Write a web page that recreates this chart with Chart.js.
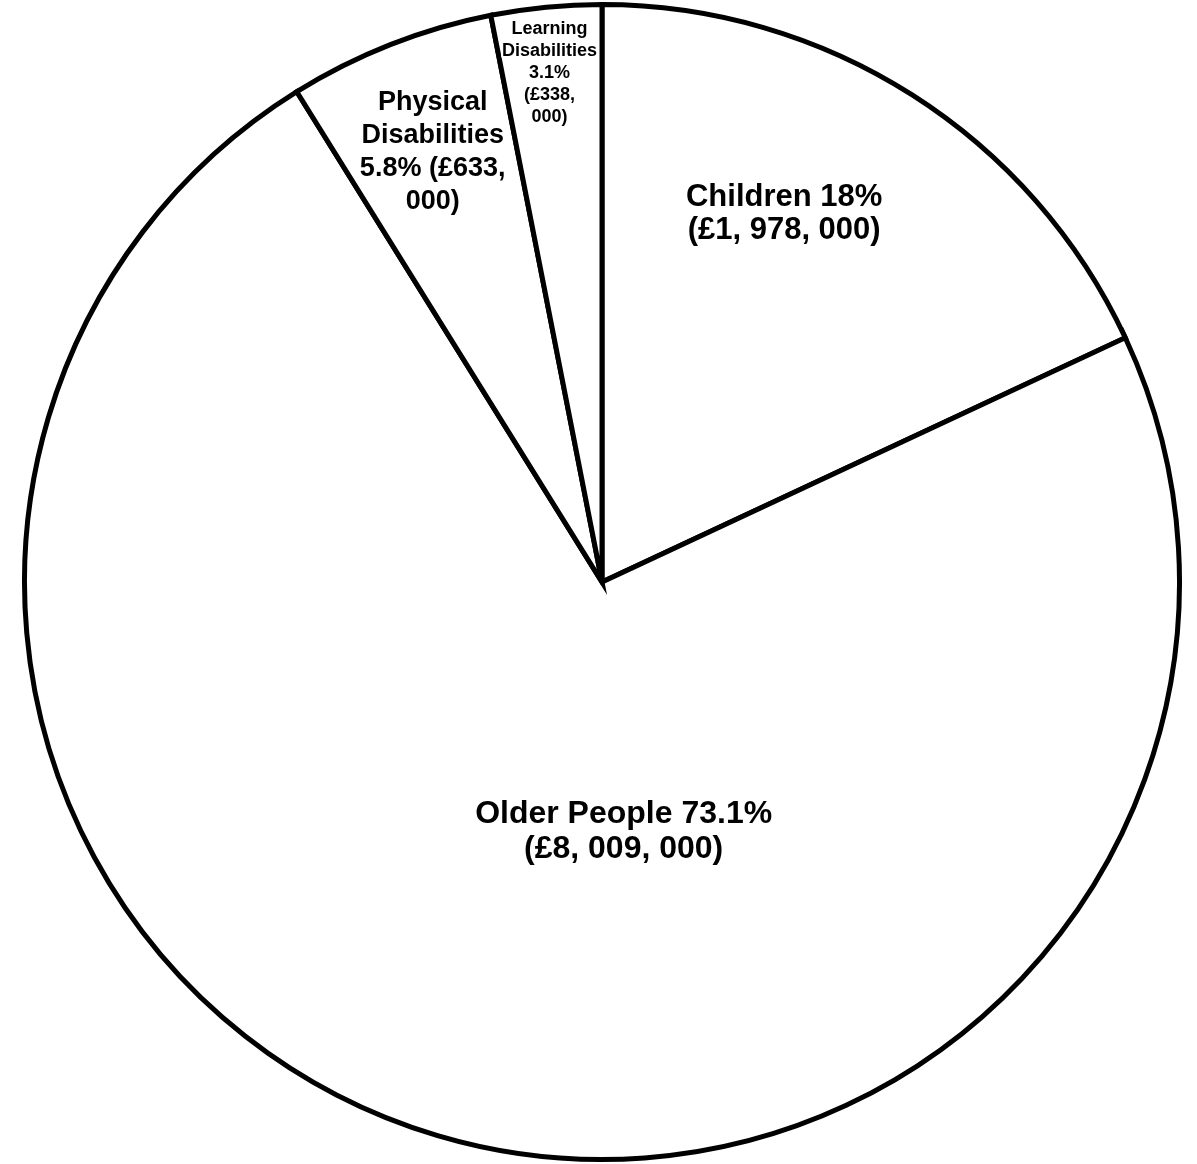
<!DOCTYPE html>
<html>
<head>
<meta charset="utf-8">
<title>Spending by client group</title>
<script src="https://cdn.jsdelivr.net/npm/chart.js@4/dist/chart.umd.min.js"></script>
<style>
  html, body { margin: 0; padding: 0; background: #fff; }
  #wrap { width: 1197px; height: 1164px; }
</style>
</head>
<body>
<div id="wrap"><canvas id="spendChart" width="1197" height="1164"></canvas></div>
<script>
// client groups, clockwise from 12 o'clock
const groups = ['Children', 'Older People', 'Physical Disabilities', 'Learning Disabilities'];
// spend in pounds
const spend = [1978000, 8009000, 633000, 338000];
// text written inside each slice, one entry per line
const sliceText = [
    ['Children 18%', '(£1, 978, 000)'],
    ['Older People 73.1%', '(£8, 009, 000)'],
    ['Physical', 'Disabilities', '5.8% (£633,', '000)'],
    ['Learning', 'Disabilities', '3.1%', '(£338,', '000)']
];

// where each text block sits: fraction of radius along the slice's middle angle, plus a nudge
const textLayout = [
    { r: 0.70, dx: -35, dy: -27, size: 31, lh: 33 },
    { r: 0.44, dx: 94, dy: 6, size: 32, lh: 35 },
    { r: 0.80, dx: 0, dy: 0, size: 27, lh: 33 },
    { r: 0.885, dx: -3, dy: 0, size: 18, lh: 22 }
];

const sliceLabels = {
    id: 'sliceLabels',
    afterDatasetsDraw(chart) {
        const ctx = chart.ctx;
        const meta = chart.getDatasetMeta(0);
        meta.data.forEach((arc, i) => {
            const p = arc.getProps(['x', 'y', 'startAngle', 'endAngle', 'outerRadius'], true);
            const mid = (p.startAngle + p.endAngle) / 2;
            const lay = textLayout[i];
            const cx = p.x + Math.cos(mid) * p.outerRadius * lay.r + lay.dx;
            const cy = p.y + Math.sin(mid) * p.outerRadius * lay.r + lay.dy;
            const lines = sliceText[i];
            ctx.save();
            ctx.font = 'bold ' + lay.size + 'px "Liberation Sans", Arial, Helvetica, sans-serif';
            ctx.textAlign = 'center';
            ctx.textBaseline = 'middle';
            ctx.lineJoin = 'round';
            ctx.lineWidth = 4;
            ctx.strokeStyle = '#fff';
            ctx.fillStyle = '#000';
            lines.forEach((t, k) => {
                const ty = cy + (k - (lines.length - 1) / 2) * lay.lh;
                ctx.strokeText(t, cx, ty);
                ctx.fillText(t, cx, ty);
            });
            ctx.restore();
        });
    }
};

new Chart('spendChart', {
    type: 'pie',
    data: {
        labels: groups,
        datasets: [{
            data: spend,
            backgroundColor: '#ffffff',
            borderColor: '#000000',
            borderWidth: 5,
            borderJoinStyle: 'miter'
        }]
    },
    options: {
        responsive: false,
        animation: false,
        layout: { padding: { left: 12, right: 5, top: 2, bottom: 2 } },
        plugins: {
            legend: { display: false },
            tooltip: { enabled: false }
        }
    },
    plugins: [sliceLabels]
});
</script>
</body>
</html>
